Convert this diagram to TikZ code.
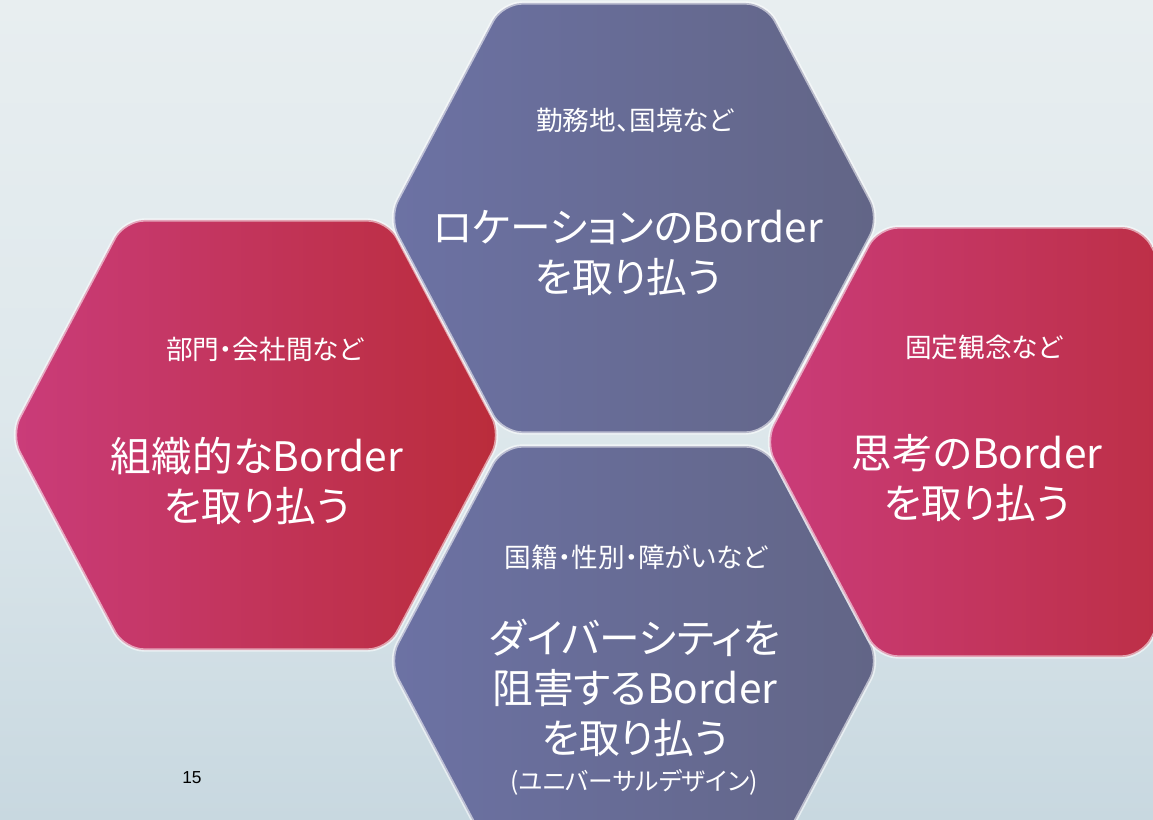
\documentclass[tikz,border=0pt]{standalone}
\usepackage{fontspec}
\setmainfont{Liberation Sans}
\newfontfamily\jp[RawFeature=+palt]{Noto Sans CJK JP}
\definecolor{bgtop}{RGB}{232,238,240}
\definecolor{bgmid}{RGB}{222,232,236}
\definecolor{bgbot}{RGB}{200,216,224}
\definecolor{redL}{RGB}{202,60,122}
\definecolor{redR}{RGB}{186,44,58}
\definecolor{purL}{RGB}{108,114,164}
\definecolor{purR}{RGB}{98,101,134}
\tikzset{
  hexbase/.style={draw=white, draw opacity=0.55, line width=2.5pt, rounded corners=15pt},
  hexred/.style={hexbase, left color=redL, right color=redR},
  hexpur/.style={hexbase, left color=purL, right color=purR},
  smalltxt/.style={text=white, font=\jp\fontsize{20}{24}\selectfont, align=center, inner sep=0pt},
  bigtxt/.style={text=white, font=\jp\fontsize{30.5}{37.5}\selectfont, align=center, inner sep=0pt},
  subtxt/.style={text=white, font=\jp\fontsize{18.5}{22}\selectfont, align=center, inner sep=0pt},
  pagetxt/.style={text=black, font=\fontsize{13}{15}\selectfont, inner sep=0pt}
}
\newcommand\hexshape[3]{%
  \path[#1, shift={(#2,#3)}] (0,-215) -- (132,-215) -- (246,0) -- (132,215) -- (-132,215) -- (-246,0) -- (-132,-215) -- cycle;}
\begin{document}
\begin{tikzpicture}[x=0.75pt,y=-0.75pt]
\path[use as bounding box, top color=bgtop, bottom color=bgbot, middle color=bgmid] (0,0) rectangle (1153,820);
\begin{scope}
\clip (0,0) rectangle (1153,820);
\hexshape{hexred}{256}{435}
\hexshape{hexpur}{634}{218}
\hexshape{hexpur}{634}{661}
\hexshape{hexred}{1010}{442}
\end{scope}
% left
\node[smalltxt] (ls) at (265,349) {部門・会社間など};
\node[bigtxt] (lb) at (257,481) {組織的なBorder\\を取り払う};
% top
\node[smalltxt] (ts) at (635,120) {勤務地、国境など};
\node[bigtxt] (tb) at (628,253) {ロケーションのBorder\\を取り払う};
% right
\node[smalltxt] (rs) at (984,347) {固定観念など};
\node[bigtxt] (rb) at (977,478) {思考のBorder\\を取り払う};
% bottom
\node[smalltxt] (bs) at (636,557) {国籍・性別・障がいなど};
\node[bigtxt] (bb) at (635,688) {ダイバーシティを\\阻害するBorder\\を取り払う};
\node[subtxt] (bsub) at (634,782) {(ユニバーサルデザイン)};
\node[pagetxt] (pg) at (192,778) {15};
\end{tikzpicture}
\end{document}
